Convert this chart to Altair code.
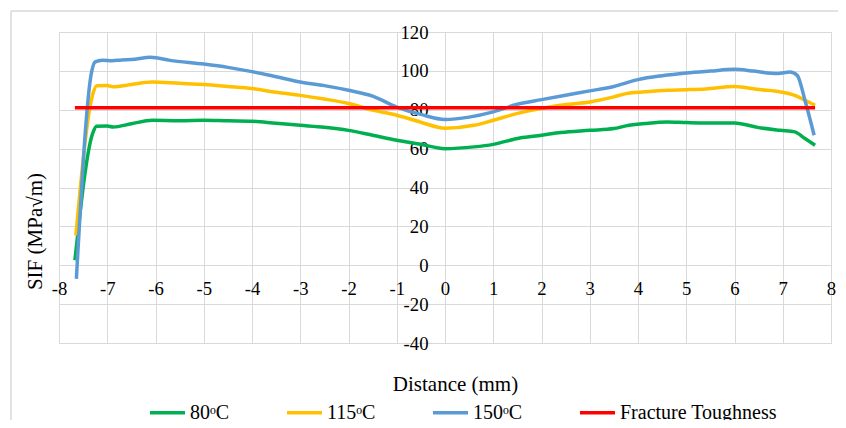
import altair as alt
import pandas as pd

# ---- data ----
x_150 = [-7.64, -7.32, -7.25, -7.1, -6.9, -6.7, -6.5, -6.1, -5.7, -5.0, -4.5, -4.0, -3.5, -3.0,
         -2.5, -2.0, -1.5, -1.0, -0.5, 0.0, 0.5, 1.0, 1.5, 2.0, 2.5, 3.0, 3.5, 4.0, 4.5, 5.0,
         5.5, 6.0, 6.4, 6.9, 7.15, 7.3, 7.46, 7.65]
y_150 = [-7, 100, 104.6, 105.5, 105.2, 105.6, 105.8, 107, 105.4, 103.5, 101.8, 99.6, 97, 94.3,
         92.4, 90, 87, 81.4, 77.6, 75, 76.2, 78.9, 82.8, 85.2, 87.5, 89.7, 92, 95.5, 97.5, 98.9,
         99.9, 100.8, 99.9, 98.6, 99.4, 97.7, 84.9, 66.9]

x_115 = [-7.65, -7.3, -7.22, -7.0, -6.88, -6.5, -6.07, -5.5, -5.0, -4.5, -4.0, -3.5, -3.0, -2.5,
         -2.0, -1.5, -1.0, -0.5, 0.0, 0.6, 1.0, 1.55, 2.0, 2.4, 3.0, 3.5, 3.75, 4.15, 4.6, 5.0,
         5.4, 6.0, 6.5, 6.95, 7.25, 7.46, 7.67]
y_115 = [15.4, 88, 92.4, 92.5, 91.8, 93, 94.3, 93.6, 93, 92, 90.9, 89, 87.4, 85.5,
         83.2, 79.8, 77.2, 73.6, 70.5, 72, 74.6, 78.4, 80.6, 82.3, 84, 86.6, 88.3, 89.2, 90, 90.3,
         90.7, 92, 90.4, 89.2, 87.4, 84.9, 82.3]

x_80 = [-7.67, -7.3, -7.22, -7.0, -6.88, -6.5, -6.07, -5.5, -5.0, -4.5, -4.0, -3.5, -3.0, -2.5,
        -2.0, -1.5, -1.0, -0.5, 0.0, 0.6, 1.0, 1.55, 2.0, 2.4, 3.0, 3.5, 3.75, 4.15, 4.6, 5.0,
        5.4, 6.0, 6.5, 6.95, 7.25, 7.46, 7.67]
y_80 = [2.6, 68, 71.5, 71.6, 71.1, 72.8, 74.6, 74.4, 74.6, 74.3, 74.1, 73, 72, 71,
        69.4, 66.9, 64.3, 62.2, 60, 60.9, 62.2, 65.5, 66.9, 68.3, 69.4, 70.3, 71.7, 72.9, 73.7, 73.4,
        73.2, 73.2, 70.8, 69.4, 68.6, 65.2, 61.7]

x_kic = [-7.67, 7.67]
y_kic = [81, 81]

series_names = ["80ᵒC", "115ᵒC", "150ᵒC", "Fracture Toughness"]
series_colors = ["#00b050", "#ffc000", "#5b9bd5", "#ff0000"]
series_widths = [3.5, 3.5, 3.5, 4.2]
x_ticks = list(range(-8, 9))
y_ticks = list(range(-40, 121, 20))

rows = []
for name, xs, ys in [(series_names[0], x_80, y_80), (series_names[1], x_115, y_115),
                     (series_names[2], x_150, y_150), (series_names[3], x_kic, y_kic)]:
    for i, (a, b) in enumerate(zip(xs, ys)):
        rows.append({"series": name, "x": a, "y": b, "i": i})
data = pd.DataFrame(rows)

FONT = "Times New Roman, Liberation Serif, Tinos, Noto Serif, DejaVu Serif, serif"
W, H = 772, 311

color = alt.Color(
    "series:N",
    scale=alt.Scale(domain=series_names, range=series_colors),
    sort=series_names,
    legend=alt.Legend(
        title=None, orient="none", direction="horizontal", columns=4,
        legendX=89, legendY=361, padding=0,
        symbolType="stroke", symbolSize=1225, symbolStrokeWidth=4,
        labelFont=FONT, labelFontSize=20, labelColor="black",
        labelOffset=3, columnPadding=50,
    ),
)

x_enc = alt.X(
    "x:Q",
    scale=alt.Scale(domain=[-8, 8], nice=False),
    axis=alt.Axis(
        values=x_ticks, offset=-77.75, domain=False, ticks=False, tickSize=0,
        grid=True, gridColor="#d9d9d9", gridWidth=1,
        labelFont=FONT, labelFontSize=18.7, labelColor="black", labelPadding=14,
        labelFlush=False, labelOverlap=False, labelExpr="'' + datum.value",
        title="Distance (mm)", titleFont=FONT, titleFontSize=21, titleFontWeight="normal",
        titleColor="black", titleX=396, titleY=119, titleBaseline="middle", titleAlign="center",
    ),
)
y_enc = alt.Y(
    "y:Q",
    scale=alt.Scale(domain=[-40, 120], nice=False),
    axis=alt.Axis(
        values=y_ticks, offset=-386, domain=False, ticks=False, tickSize=0,
        grid=True, gridColor="#d9d9d9", gridWidth=1,
        labelFont=FONT, labelFontSize=18.7, labelColor="black", labelPadding=17,
        labelFlush=False, labelOverlap=False, labelExpr="'' + datum.value",
        title="SIF (MPa√m)", titleFont=FONT, titleFontSize=21, titleFontWeight="normal",
        titleColor="black", titleX=-410, titleY=199, titleBaseline="middle", titleAlign="center",
        titleAngle=270,
    ),
)

lines = alt.Chart(data).mark_line(interpolate="monotone").encode(
    x=x_enc, y=y_enc, color=color,
    strokeWidth=alt.StrokeWidth("series:N", scale=alt.Scale(domain=series_names, range=series_widths),
                                legend=None),
    order="i:Q",
)

frame = pd.DataFrame({"k": [0]})
left_border = alt.Chart(frame).mark_rule(color="#d9d9d9", strokeWidth=1.5).encode(
    x=alt.value(-48), y=alt.value(-21), y2=alt.value(400)
)
top_border = alt.Chart(frame).mark_rule(color="#d9d9d9", strokeWidth=1.5).encode(
    x=alt.value(-48), x2=alt.value(790), y=alt.value(-21)
)

chart = alt.layer(lines, left_border, top_border).properties(
    width=W, height=H,
    autosize=alt.AutoSizeParams(type="none"),
    padding={"left": 51, "top": 24, "right": 7, "bottom": 77},
).configure_view(stroke=None).configure(background="white").configure_text(font=FONT)

chart.save("out.html", embed_options={"renderer": "svg", "actions": False})
